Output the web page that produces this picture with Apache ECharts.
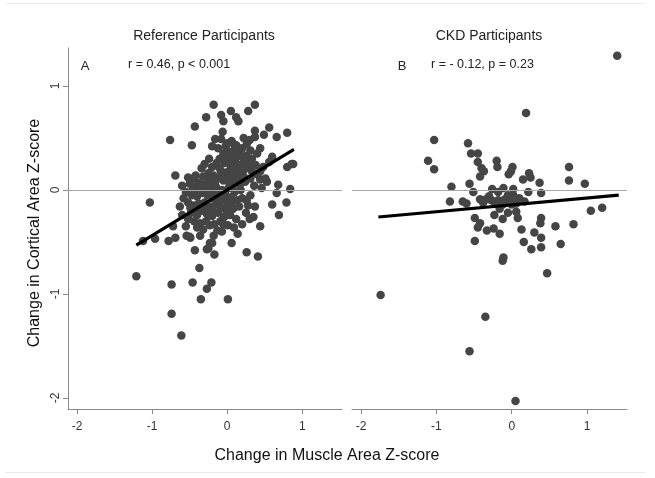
<!DOCTYPE html>
<html>
<head>
<meta charset="utf-8">
<script src="https://cdn.jsdelivr.net/npm/echarts@6/dist/echarts.min.js"></script>
<style>
html,body{margin:0;padding:0;background:#fff;}
#chart{width:655px;height:478px;}
</style>
</head>
<body>
<div id="chart"></div>
<script>
var panelTitles = ['Reference Participants', 'CKD Participants'];
var panelLetters = ['A', 'B'];
var statTexts = ['r = 0.46, p < 0.001', 'r = - 0.12, p = 0.23'];
var xTickValues = [-2, -1, 0, 1];
var yTickValues = [-2, -1, 0, 1];
var xTitle = 'Change in Muscle Area Z-score';
var yTitle = 'Change in Cortical Area Z-score';

var referencePoints = [
[-0.18,0.82],[0.37,0.82],[0.28,0.76],[0.05,0.76],[-0.08,0.72],[-0.05,0.66],[0.12,0.70],[0.15,0.66],[-0.28,0.70],[-0.43,0.61],
[-0.76,0.48],[-0.47,0.43],[-0.06,0.56],[-0.16,0.49],[-0.20,0.42],[0.00,0.45],[0.06,0.47],[0.09,0.44],[0.37,0.57],[0.37,0.51],
[0.49,0.53],[0.56,0.60],[0.66,0.51],[0.80,0.55],[0.88,0.25],[0.80,0.22],[-0.69,0.14],[-1.03,-0.12],[0.84,0.01],[0.66,-0.03],
[0.60,-0.14],[0.79,-0.12],[0.69,-0.24],[0.44,-0.35],[0.14,-0.42],[0.06,-0.51],[0.26,-0.60],[0.41,-0.64],[-1.21,-0.83],[-1.12,-0.49],
[-0.96,-0.47],[-0.78,-0.49],[-0.69,-0.46],[-0.43,-0.58],[-0.27,-0.57],[-0.17,-0.62],[-0.23,-0.51],[-0.18,-0.44],[-0.37,-0.75],[-0.74,-0.91],
[-0.46,-0.89],[-0.21,-0.89],[-0.27,-0.95],[-0.35,-1.05],[0.01,-1.05],[-0.74,-1.19],[-0.61,-1.40],[-0.54,-0.44],[-0.49,-0.46],[-0.07,-0.40],
[-0.72,-0.35],[-0.63,-0.16],[-0.60,-0.24],[-0.50,-0.45],[-0.25,-0.56],[-0.20,-0.51],[0.35,-0.26],[0.37,-0.16],[0.26,-0.10],[0.31,-0.05],
[0.24,0.08],[0.51,0.11],[0.44,0.40],[0.40,0.35],[0.31,0.38],[0.33,0.30],[0.60,0.32],[0.56,0.27],[-0.05,0.35],[0.04,0.34],
[0.08,0.37],[0.15,0.35],[-0.03,0.26],[0.08,0.27],[0.22,0.27],[0.28,0.22],[0.33,0.18],[0.44,0.18],[-0.20,0.22],[-0.18,0.14],
[-0.27,0.11],[-0.34,0.21],[-0.32,0.13],[-0.52,0.12],[-0.45,0.11],[-0.38,0.07],[0.86,0.25],[0.68,0.05],[0.04,0.11],[0.13,0.11],
[0.22,0.13],[0.31,0.11],[0.44,0.10],[0.53,0.08],
[-0.12,0.40],[-0.02,0.42],[0.12,0.43],[0.20,0.40],[0.26,0.44],[-0.10,0.30],[0.00,0.30],[0.12,0.31],[0.18,0.33],[0.25,0.33],
[-0.14,0.26],[0.05,0.22],[0.15,0.24],[0.20,0.19],[0.27,0.27],[-0.08,0.18],[0.00,0.17],[0.10,0.18],[0.17,0.15],[0.38,0.24],
[0.40,0.15],[0.48,0.22],[-0.12,0.12],[-0.05,0.09],[0.09,0.06],[0.17,0.05],[0.36,0.04],[0.46,0.02],[-0.24,0.30],[-0.30,0.25],
[-0.08,0.49],[0.22,0.50],[0.30,0.48],
[-0.50,0.06],[-0.42,0.03],[-0.35,0.05],[-0.28,0.06],[-0.22,0.04],[-0.15,0.03],[-0.07,0.00],[0.02,0.02],[0.10,-0.02],[0.18,0.00],
[-0.55,-0.02],[-0.47,-0.05],[-0.40,-0.06],[-0.33,-0.03],[-0.26,-0.05],[-0.19,-0.08],[-0.11,-0.06],[-0.03,-0.09],[0.05,-0.07],[0.13,-0.10],
[0.20,-0.08],[-0.52,-0.12],[-0.45,-0.15],[-0.38,-0.13],[-0.30,-0.12],[-0.23,-0.16],[-0.15,-0.14],[-0.08,-0.17],[0.00,-0.15],[0.08,-0.18],
[0.16,-0.16],[-0.48,-0.22],[-0.40,-0.24],[-0.34,-0.20],[-0.27,-0.23],[-0.20,-0.25],[-0.12,-0.22],[-0.04,-0.26],[0.04,-0.24],[0.12,-0.28],
[-0.44,-0.30],[-0.36,-0.32],[-0.28,-0.30],[-0.17,-0.33],[-0.09,-0.30],[0.01,-0.34],[0.09,-0.36],[-0.55,-0.35],[-0.32,-0.38],[-0.13,-0.39],
[0.20,-0.33],[0.25,-0.22],[0.28,-0.15],[-0.58,-0.08],[-0.60,0.04],[-0.42,0.14],[-0.25,0.16],[-0.10,0.21],[0.30,-0.28],[-0.36,-0.44],
[0.02,0.08],[-0.18,-0.02],
[-0.46,0.00],[-0.38,-0.02],[-0.31,0.01],[-0.24,-0.01],[-0.14,-0.02],[-0.03,-0.03],[0.07,0.03],[-0.49,-0.17],[-0.42,-0.19],[-0.35,-0.16],
[-0.27,-0.18],[-0.19,-0.20],[-0.10,-0.12],[-0.01,-0.20],[0.06,-0.12],[-0.52,-0.28],[-0.40,-0.36],[-0.23,-0.34],[-0.05,-0.33],[-0.16,0.08],
[-0.07,0.13],[0.04,0.14],[0.23,0.20],[0.11,0.38],[0.02,0.37],[-0.22,0.10],[0.14,0.09],[0.33,0.25],[0.06,0.29],[-0.37,0.00]
];

var ckdPoints = [
[1.40,1.29],[0.19,0.74],[-1.03,0.48],[-1.11,0.28],[-1.03,0.20],[-0.58,0.45],[-0.54,0.35],[-0.45,0.35],[-0.45,0.27],[-0.40,0.21],
[-0.37,0.18],[-0.42,0.13],[-0.20,0.28],[-0.19,0.22],[0.01,0.22],[-0.01,0.18],[-0.04,0.15],[0.23,0.16],[0.25,0.12],[0.15,0.10],
[0.37,0.07],[0.76,0.22],[0.76,0.09],[0.97,0.06],[-0.80,0.03],[-0.56,0.06],[-0.51,-0.02],[-0.26,0.01],[-0.18,-0.02],[-0.11,0.02],
[0.02,0.01],[0.22,-0.02],[0.39,-0.03],[0.02,-0.05],[-0.82,-0.11],[-0.65,-0.11],[-0.60,-0.13],[-0.42,-0.09],[-0.34,-0.09],[-0.27,-0.10],
[-0.18,-0.10],[-0.09,-0.09],[-0.03,-0.11],[0.04,-0.10],[0.06,-0.13],[0.17,-0.11],[1.05,-0.20],[1.20,-0.17],[-0.16,-0.18],[-0.23,-0.24],
[-0.12,-0.28],[-0.05,-0.22],[0.06,-0.21],[0.08,-0.27],[-0.49,-0.27],[-0.42,-0.32],[-0.45,-0.36],[-0.33,-0.39],[-0.24,-0.37],[-0.16,-0.42],
[-0.49,-0.49],[0.13,-0.38],[0.39,-0.27],[0.38,-0.32],[0.30,-0.41],[0.39,-0.46],[0.58,-0.35],[0.82,-0.33],[0.16,-0.50],[0.26,-0.57],
[0.39,-0.55],[0.65,-0.52],[-0.11,-0.65],[-0.12,-0.68],[0.47,-0.80],[-1.74,-1.01],[-0.35,-1.22],[-0.56,-1.55],[0.05,-2.03],
[-0.38,-0.12],[-0.22,-0.13],[-0.12,-0.14],[0.00,-0.14],[-0.30,-0.06],[-0.05,-0.05],[0.10,-0.08]
];

var referenceFit = [[-1.21,-0.53],[0.89,0.39]];
var ckdFit = [[-1.77,-0.26],[1.42,-0.05]];

var FONT = "'Liberation Sans', Arial, sans-serif";
var AXIS_COLOR = '#8a8a8a';
var DOT_COLOR = '#454545';

var chart = echarts.init(document.getElementById('chart'), null, {renderer: 'canvas'});

function xAxisCfg(gi) {
  return {
    type: 'value', gridIndex: gi, min: -2.12, max: 1.53,
    splitLine: {show: false},
    axisLine: {show: true, onZero: false, lineStyle: {color: AXIS_COLOR, width: 1}},
    axisTick: {show: true, length: 5, customValues: xTickValues, lineStyle: {color: AXIS_COLOR}},
    axisLabel: {show: true, customValues: xTickValues, margin: 12, color: '#333', fontSize: 12, fontFamily: FONT,
      formatter: function (v) { return String(v); }}
  };
}
function yAxisCfg(gi, visible) {
  return {
    type: 'value', gridIndex: gi, min: -2.106, max: 1.365,
    splitLine: {show: false},
    axisLine: {show: visible, onZero: false, lineStyle: {color: AXIS_COLOR, width: 1}},
    axisTick: {show: visible, length: 5, customValues: yTickValues, lineStyle: {color: AXIS_COLOR}},
    axisLabel: {show: visible, customValues: yTickValues, rotate: 90, margin: 6, color: '#333', fontSize: 12, fontFamily: FONT,
      formatter: function (v) { return String(v); }}
  };
}
function zeroLine() {
  return {
    silent: true, symbol: 'none', animation: false,
    label: {show: false},
    lineStyle: {color: '#a8a8a8', width: 1, type: 'solid'},
    data: [{yAxis: 0}]
  };
}

var option = {
  backgroundColor: '#fff',
  animation: false,
  grid: [
    {left: 68, top: 48, width: 274, height: 361},
    {left: 352, top: 48, width: 275, height: 361}
  ],
  xAxis: [xAxisCfg(0), xAxisCfg(1)],
  yAxis: [yAxisCfg(0, true), yAxisCfg(1, false)],
  series: [
    {type: 'scatter', xAxisIndex: 0, yAxisIndex: 0, data: referencePoints, symbolSize: 8.5,
      itemStyle: {color: DOT_COLOR, opacity: 1}, markLine: zeroLine(), z: 2},
    {type: 'scatter', xAxisIndex: 1, yAxisIndex: 1, data: ckdPoints, symbolSize: 8.5,
      itemStyle: {color: DOT_COLOR, opacity: 1}, markLine: zeroLine(), z: 2},
    {type: 'line', xAxisIndex: 0, yAxisIndex: 0, data: referenceFit, symbol: 'none',
      lineStyle: {color: '#000', width: 3.2}, z: 5},
    {type: 'line', xAxisIndex: 1, yAxisIndex: 1, data: ckdFit, symbol: 'none',
      lineStyle: {color: '#000', width: 3.2}, z: 5}
  ],
  graphic: [
    {type: 'line', shape: {x1: 5, y1: 3.5, x2: 645, y2: 3.5}, style: {stroke: '#ececec', lineWidth: 1}, silent: true},
    {type: 'line', shape: {x1: 5, y1: 472.5, x2: 645, y2: 472.5}, style: {stroke: '#ececec', lineWidth: 1}, silent: true},
    {type: 'text', x: 204, y: 36, style: {text: panelTitles[0], font: '14px ' + FONT, fill: '#222', textAlign: 'center', textVerticalAlign: 'middle'}},
    {type: 'text', x: 489, y: 36, style: {text: panelTitles[1], font: '14px ' + FONT, fill: '#222', textAlign: 'center', textVerticalAlign: 'middle'}},
    {type: 'text', x: 85, y: 66, style: {text: panelLetters[0], font: '13px ' + FONT, fill: '#222', textAlign: 'center', textVerticalAlign: 'middle'}},
    {type: 'text', x: 402, y: 66, style: {text: panelLetters[1], font: '13px ' + FONT, fill: '#222', textAlign: 'center', textVerticalAlign: 'middle'}},
    {type: 'text', x: 128, y: 65, style: {text: statTexts[0], font: '12.5px ' + FONT, fill: '#222', textAlign: 'left', textVerticalAlign: 'middle'}},
    {type: 'text', x: 431, y: 65, style: {text: statTexts[1], font: '12.5px ' + FONT, fill: '#222', textAlign: 'left', textVerticalAlign: 'middle'}},
    {type: 'text', x: 327, y: 456, style: {text: xTitle, font: '16px ' + FONT, fill: '#111', textAlign: 'center', textVerticalAlign: 'middle'}},
    {type: 'text', x: 35, y: 233, rotation: Math.PI / 2, style: {text: yTitle, font: '16px ' + FONT, fill: '#111', textAlign: 'center', textVerticalAlign: 'middle'}}
  ]
};
chart.setOption(option);
</script>
</body>
</html>
